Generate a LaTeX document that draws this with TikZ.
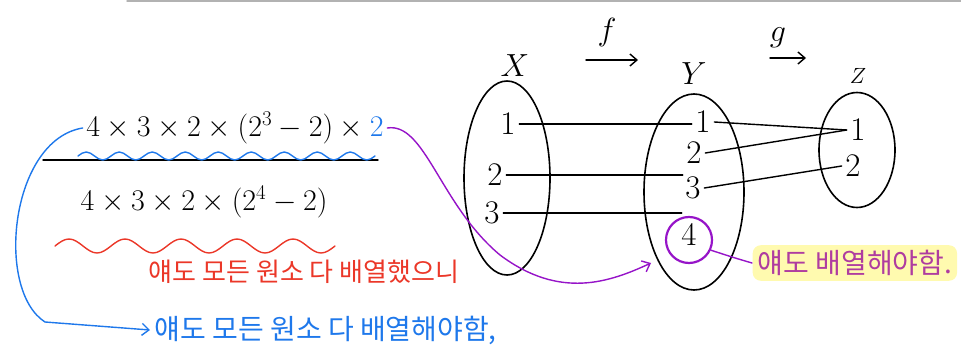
\RequirePackage{fix-cm}
\documentclass[tikz,border=0pt]{standalone}
\usepackage{fontspec}
\newfontfamily\kr{Noto Sans CJK KR}
\usetikzlibrary{shapes.geometric, arrows.meta, positioning}
\definecolor{penblue}{RGB}{30,120,235}
\definecolor{penred}{RGB}{235,55,40}
\definecolor{penpurple}{RGB}{150,20,200}
\definecolor{notepurple}{RGB}{175,60,160}
\definecolor{marker}{RGB}{255,250,175}

\begin{document}
\begin{tikzpicture}[x=1pt, y=-1pt, >={Straight Barb[length=7pt, width=12pt]}, line width=1.4pt, line cap=round,
  elem/.style={inner sep=3pt, font=\fontsize{33}{33}\selectfont},
  setbox/.style={ellipse, draw, line width=1.6pt, inner sep=0pt},
  frac/.style={inner sep=3pt, font=\fontsize{30}{30}\selectfont},
  hangul/.style={inner sep=4pt, font=\kr\fontsize{#1}{#1}\selectfont}]
  \useasboundingbox (0,0) rectangle (961,345);
  \draw[gray!60, line width=1.5pt] (127,1) -- (961,1);

  % Fraction
  \node[frac] (numer) at (235,128) {$4\times3\times2\times(2^{3}-2)\times\textcolor{penblue}{2}$};
  \node[frac] (denom) at (204,202) {$4\times3\times2\times(2^{4}-2)$};
  \draw (43,160) -- (378,160);
  \draw[penblue] (78,156) \foreach \k in {1,...,9} {
    sin ++(8.25,-4) cos ++(8.25,4) sin ++(8.25,4) cos ++(8.25,-4) };
  \draw[penred] (55,246) \foreach \k in {1,...,5} {
    sin ++(14,-7) cos ++(14,7) sin ++(14,7) cos ++(14,-7) };

  % Notes
  \node[hangul=26, text=penred] (rednote) at (304,272) {얘도 모든 원소 다 배열했으니};
  \node[hangul=28, text=penblue, anchor=west] (bluenote) at (150,330) {얘도 모든 원소 다 배열해야함,};

  % Sets
  \node[setbox, minimum width=86, minimum height=194] (setX) at (507,178) {};
  \node[setbox, minimum width=100, minimum height=196] (setY) at (694,192) {};
  \node[setbox, minimum width=76, minimum height=115] (setZ) at (857,150) {};
  \node[font=\fontsize{32}{32}\selectfont] (labX) at (515,66) {$X$};
  \node[font=\fontsize{32}{32}\selectfont] (labY) at (694,74) {$Y$};
  \node[font=\fontsize{22}{22}\selectfont] (labZ) at (858,76) {$Z$};

  % Maps
  \node[font=\fontsize{32}{32}\selectfont] (labf) at (607,33) {$f$};
  \node[font=\fontsize{32}{32}\selectfont] (labg) at (778,38) {$g$};
  \coordinate (f0) at (586,60);
  \coordinate (f1) at (638,60);
  \coordinate (g0) at (770,58);
  \coordinate (g1) at (806,58);
  \draw[->] (f0) -- (f1);
  \draw[->] (g0) -- (g1);

  % Elements
  \foreach \i/\p in {1/{(508,124)}, 2/{(495,175)}, 3/{(492,213)}} {
    \node[elem] (x\i) at \p {\i};
  }
  \foreach \i/\p in {1/{(703,122)}, 2/{(694,153)}, 3/{(693,188)}, 4/{(689,234)}} {
    \node[elem] (y\i) at \p {\i};
  }
  \foreach \i/\p in {1/{(858,130)}, 2/{(853,166)}} {
    \node[elem] (z\i) at \p {\i};
  }

  % Connections
  \foreach \i in {1,2,3} {
    \draw (x\i.east) -- (x\i.east -| y\i.west);
  }
  \draw (y1.east) -- (z1.west);
  \draw (y2.east) -- (z1.west);
  \draw (y3.east) -- (z2.west);

  % Element 4 of Y
  \node[circle, draw=penpurple, line width=2.2pt, minimum size=46] (ring) at (689,240) {};
  \node[inner sep=5pt, font=\kr\fontsize{28}{28}\selectfont, text=notepurple, fill=marker, rounded corners=8pt, anchor=west] (note) at (752,263) {얘도 배열해야함.};
  \draw[penpurple] (ring.-25) .. controls (735,258) .. (note.west);

  % Arrows
  \coordinate (ptip) at (651,263);
  \draw[penpurple, ->] (numer.east) .. controls (425,122) and (440,205) .. (500,255)
    .. controls (560,300) and (610,282) .. (ptip);
  \draw[penblue, ->] (numer.west) .. controls (10,140) and (-5,290) .. (45,322) -- (bluenote.west);
\end{tikzpicture}
\end{document}
